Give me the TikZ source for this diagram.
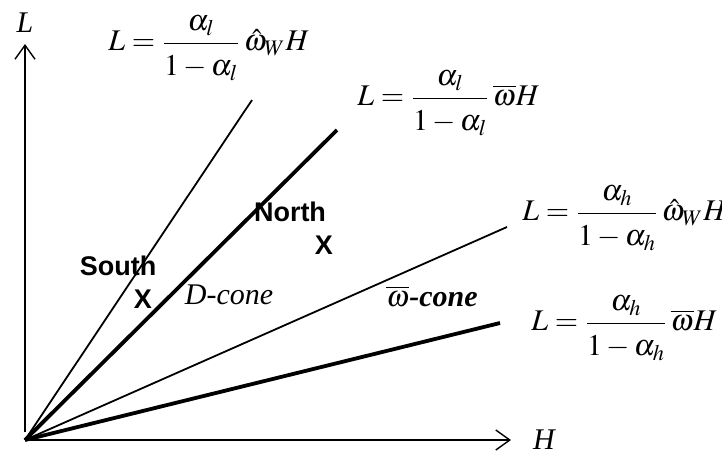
\documentclass[tikz,border=0pt]{standalone}
\usepackage{amsmath}
\usepackage{mathptmx}
\usepackage[no-math]{fontspec}
\setmainfont{Liberation Serif}
\setsansfont{Liberation Sans}
\usetikzlibrary{arrows.meta,positioning}
\newcommand{\rayfrac}[2]{\frac{\rule[-3pt]{0pt}{3pt}#1}{\rule{0pt}{14pt}#2}}

\begin{document}
\begin{tikzpicture}[
    x=0.5pt, y=-0.5pt,
    axis/.style={line width=0.8pt, -{Straight Barb[length=7pt,width=10pt,line width=0.7pt]}},
    thinray/.style={line width=0.9pt},
    thickray/.style={line width=1.9pt},
    eqlabel/.style={font=\fontsize{15}{18}\selectfont, inner sep=0pt, anchor=west},
    axislabel/.style={font=\itshape\fontsize{15}{18}\selectfont, inner sep=0pt},
    region/.style={font=\sffamily\bfseries\fontsize{13.5}{16}\selectfont, inner sep=0pt},
    conelabel/.style={font=\itshape\fontsize{15}{18}\selectfont, inner sep=0pt}
]
\useasboundingbox (0,0) rectangle (722,456);

% axes
\coordinate (o) at (25,440);
\coordinate (ltop) at (25,44);
\coordinate (htop) at (511,440);
\draw[axis] (25,432) -- (ltop);
\draw[axis] (o) -- (htop);
\node[axislabel] (lname) at (25,23) {L};
\node[axislabel] (hname) at (544,440) {H};

% rays
\coordinate (r1) at (252,100);
\coordinate (r2) at (337,130);
\coordinate (r3) at (507,227);
\coordinate (r4) at (500,323);
\draw[thinray] (o) -- (r1);
\draw[thickray] (o) -- (r2);
\draw[thinray] (o) -- (r3);
\draw[thickray] (o) -- (r4);

% ray equations
\node[eqlabel] (eq1) at (108,48) {$\displaystyle L=\rayfrac{\alpha_l}{1-\alpha_l}\,\hat{\omega}_W H$};
\node[eqlabel] (eq2) at (357,103) {$\displaystyle L=\rayfrac{\alpha_l}{1-\alpha_l}\,\overline{\omega} H$};
\node[eqlabel] (eq3) at (522,218) {$\displaystyle L=\rayfrac{\alpha_h}{1-\alpha_h}\,\hat{\omega}_W H$};
\node[eqlabel] (eq4) at (531,328) {$\displaystyle L=\rayfrac{\alpha_h}{1-\alpha_h}\,\overline{\omega} H$};

% regions
\node[region] (south) at (118,266) {South};
\node[region] (southx) at (143,299) {X};
\node[region] (north) at (290,212) {North};
\node[region] (northx) at (324,245) {X};
\node[conelabel] (dcone) at (229,295) {D-cone};
\node[conelabel, font=\bfseries\itshape\fontsize{15}{18}\selectfont] (wcone) at (432,296) {$\boldsymbol{\overline{\omega}}$-cone};
\end{tikzpicture}
\end{document}
